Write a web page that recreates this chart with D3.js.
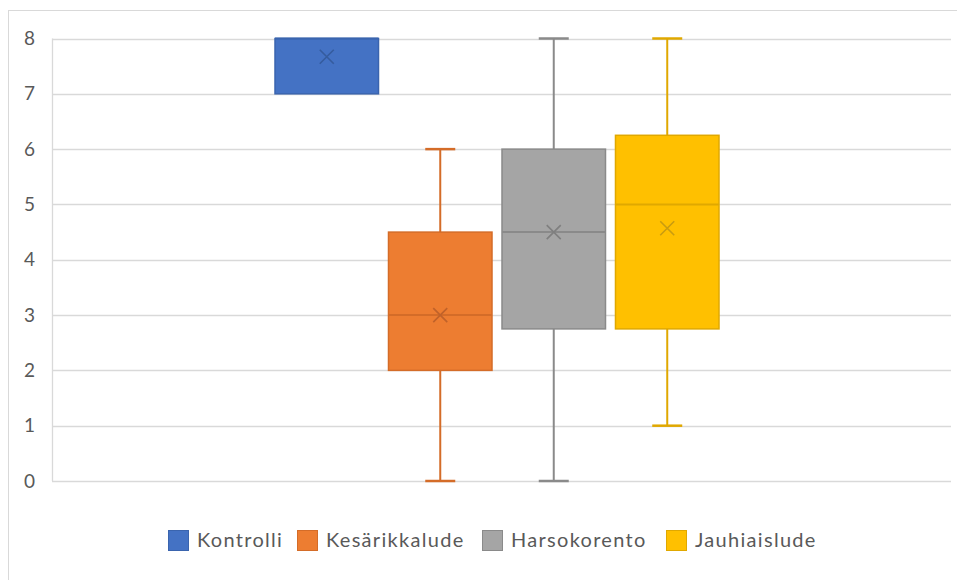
<!DOCTYPE html>
<html>
<head>
<meta charset="utf-8">
<script src="https://cdn.jsdelivr.net/npm/d3@7"></script>
<style>
  html, body { margin: 0; padding: 0; background: #fff; }
  svg { display: block; }
  text { font-family: Lato, "Open Sans", sans-serif; fill: #595959; }
</style>
</head>
<body>
<svg id="chart" width="957" height="580"></svg>
<script>
// Box-and-whisker summary per treatment
const series   = ["Kontrolli", "Kesärikkalude", "Harsokorento", "Jauhiaislude"];
const mins     = [7, 0, 0, 1];
const q1s      = [7, 2, 2.75, 2.75];
const medians  = [8, 3, 4.5, 5];
const q3s      = [8, 4.5, 6, 6.25];
const maxs     = [8, 6, 8, 8];
const means    = [7.67, 3, 4.5, 4.57];
const yTicks   = [0, 1, 2, 3, 4, 5, 6, 7, 8];

const fills    = ["#4472C4", "#ED7D31", "#A5A5A5", "#FFC000"];
const strokes  = ["#3A64AE", "#D46C28", "#8A8A8A", "#E0A800"];
const marks    = ["#355C9E", "#C0622A", "#7F7F7F", "#C99C10"];

const svg = d3.select("#chart");
const W = 957, H = 580;

// chart frame
svg.append("rect")
  .attr("x", 8.5).attr("y", 10.5)
  .attr("width", W + 10).attr("height", H + 10)
  .attr("fill", "#fff").attr("stroke", "#d9d9d9");

const plot = { left: 52, right: 951, top: 38.5, bottom: 481 };

const y = d3.scaleLinear().domain([0, 8]).range([plot.bottom, plot.top]);
const x = d3.scaleBand().domain(series).range([275, 719]).paddingInner(0.088);

// gridlines
svg.append("g")
  .selectAll("line").data(yTicks).join("line")
  .attr("x1", plot.left).attr("x2", plot.right)
  .attr("y1", d => Math.round(y(d)) + 0.5).attr("y2", d => Math.round(y(d)) + 0.5)
  .attr("stroke", "#d9d9d9").attr("stroke-width", 1.3);

// vertical axis line
svg.append("line")
  .attr("x1", plot.left + 0.5).attr("x2", plot.left + 0.5)
  .attr("y1", y(8)).attr("y2", y(0))
  .attr("stroke", "#d9d9d9").attr("stroke-width", 1.3);

// y axis labels
const yAxis = d3.axisLeft(y).tickValues(yTicks).tickSize(0).tickPadding(0).tickFormat(d3.format("d"));
const gy = svg.append("g").attr("transform", `translate(35,0)`).call(yAxis);
gy.select(".domain").remove();
gy.selectAll("text")
  .attr("font-size", 19)
  .style("font-family", "Lato, 'Open Sans', sans-serif")
  .attr("fill", "#595959");

// boxes
const data = series.map((s, i) => ({
  s, i, min: mins[i], q1: q1s[i], med: medians[i], q3: q3s[i], max: maxs[i], mean: means[i]
}));

const bw = x.bandwidth();
const capW = 30;
const g = svg.append("g");

data.forEach(d => {
  const cx = x(d.s) + bw / 2;
  const col = strokes[d.i];
  // whiskers
  if (d.max > d.q3) {
    g.append("line").attr("x1", cx).attr("x2", cx).attr("y1", y(d.max)).attr("y2", y(d.q3))
      .attr("stroke", col).attr("stroke-width", 2);
    g.append("line").attr("x1", cx - capW / 2).attr("x2", cx + capW / 2).attr("y1", y(d.max)).attr("y2", y(d.max))
      .attr("stroke", col).attr("stroke-width", 2.5);
  }
  if (d.min < d.q1) {
    g.append("line").attr("x1", cx).attr("x2", cx).attr("y1", y(d.q1)).attr("y2", y(d.min))
      .attr("stroke", col).attr("stroke-width", 2);
    g.append("line").attr("x1", cx - capW / 2).attr("x2", cx + capW / 2).attr("y1", y(d.min)).attr("y2", y(d.min))
      .attr("stroke", col).attr("stroke-width", 2.5);
  }
  // box
  g.append("rect")
    .attr("x", x(d.s)).attr("y", y(d.q3))
    .attr("width", bw).attr("height", y(d.q1) - y(d.q3))
    .attr("fill", fills[d.i]).attr("stroke", col).attr("stroke-width", 1.5);
  // median
  g.append("line").attr("x1", x(d.s)).attr("x2", x(d.s) + bw)
    .attr("y1", y(d.med)).attr("y2", y(d.med))
    .attr("stroke", col).attr("stroke-width", 2);
  // mean marker
  const my = y(d.mean), r = 7;
  g.append("path")
    .attr("d", `M${cx - r},${my - r}L${cx + r},${my + r}M${cx - r},${my + r}L${cx + r},${my - r}`)
    .attr("stroke", marks[d.i]).attr("stroke-width", 1.6).attr("fill", "none");
});

// legend
const legendX = [168, 297, 482, 666];
const lg = svg.append("g");
series.forEach((s, i) => {
  lg.append("rect")
    .attr("x", legendX[i] + 0.5).attr("y", 530.5).attr("width", 20).attr("height", 20)
    .attr("fill", fills[i]).attr("stroke", strokes[i]).attr("stroke-width", 1);
  lg.append("text")
    .attr("x", legendX[i] + 29).attr("y", 540).attr("dy", "0.35em")
    .attr("font-size", 20).attr("letter-spacing", 1.3).text(s);
});
</script>
</body>
</html>
